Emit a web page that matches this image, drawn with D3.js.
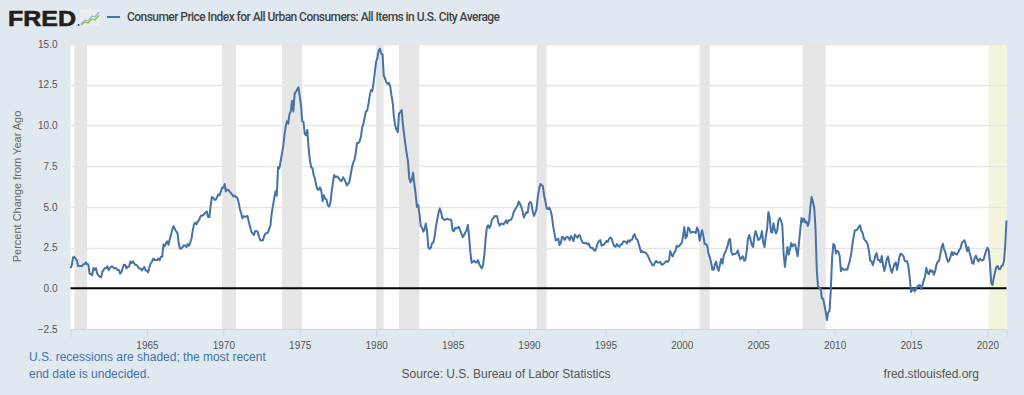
<!DOCTYPE html>
<html>
<head>
<meta charset="utf-8">
<script src="https://cdn.jsdelivr.net/npm/d3@7"></script>
<style>
  html, body { margin: 0; padding: 0; background: #e1e9f0; }
  svg { display: block; font-family: "Liberation Sans", Arial, sans-serif; }
</style>
</head>
<body>
<div id="chart"></div>
<script>
// CPI-U, percent change from year ago, monthly from Jan 1960 (one row per year)
var seriesStart = new Date(1960, 0, 1);
var cpiYoY = [
  1.24, 1.41, 1.90, 1.93, 1.82, 1.72, 1.37, 1.37, 1.37, 1.36, 1.48, 1.48, // 1960
  1.59, 1.47, 1.47, 0.90, 0.90, 0.79, 1.24, 1.13, 1.24, 0.90, 0.79, 0.70, // 1961
  0.68, 1.01, 1.13, 1.24, 1.24, 1.35, 1.12, 1.23, 1.34, 1.34, 1.23, 1.23, // 1962
  1.23, 1.12, 1.12, 0.89, 1.00, 1.23, 1.45, 1.44, 1.22, 1.33, 1.33, 1.65, // 1963
  1.54, 1.65, 1.54, 1.43, 1.43, 1.32, 1.21, 1.21, 1.10, 1.21, 1.31, 1.09, // 1964
  1.09, 0.98, 1.30, 1.52, 1.63, 1.83, 1.73, 1.73, 1.73, 1.83, 1.73, 1.94, // 1965
  1.94, 2.69, 2.58, 2.78, 2.89, 2.67, 3.01, 3.32, 3.62, 3.82, 3.62, 3.50, // 1966
  3.39, 2.75, 2.44, 2.43, 2.53, 2.64, 2.63, 2.52, 2.71, 2.61, 2.80, 3.04, // 1967
  3.54, 3.94, 4.03, 3.92, 4.11, 4.20, 4.40, 4.48, 4.47, 4.56, 4.65, 4.72, // 1968
  4.38, 4.37, 5.00, 5.61, 5.56, 5.44, 5.44, 5.59, 5.76, 5.71, 5.93, 6.18, // 1969
  6.18, 6.40, 5.96, 6.06, 6.04, 5.94, 5.85, 5.75, 5.64, 5.69, 5.60, 5.57, // 1970
  5.26, 4.87, 4.62, 4.30, 4.43, 4.40, 4.40, 4.45, 4.08, 3.80, 3.49, 3.37, // 1971
  3.27, 3.51, 3.50, 3.49, 3.18, 2.95, 2.94, 2.93, 3.19, 3.36, 3.39, 3.41, // 1972
  3.65, 3.87, 4.59, 5.06, 5.53, 5.96, 5.68, 7.44, 7.36, 7.80, 8.25, 8.71, // 1973
  9.39, 9.97, 10.26, 10.11, 10.71, 10.86, 11.51, 10.86, 11.94, 12.06, 12.20, 12.34, // 1974
  11.80, 11.23, 10.25, 10.21, 9.47, 9.39, 9.72, 8.60, 7.86, 7.43, 7.38, 6.94, // 1975
  6.72, 6.29, 6.07, 6.05, 6.20, 5.97, 5.35, 5.71, 5.49, 5.46, 5.12, 5.02, // 1976
  5.21, 5.91, 6.44, 6.95, 6.83, 6.87, 6.83, 6.72, 6.61, 6.59, 6.82, 6.70, // 1977
  6.52, 6.31, 6.41, 6.52, 6.95, 7.40, 7.71, 7.88, 8.31, 8.92, 8.91, 9.02, // 1978
  9.28, 9.86, 10.09, 10.49, 10.86, 10.91, 11.31, 11.83, 12.18, 12.11, 12.63, 13.29, // 1979
  13.91, 14.16, 14.60, 14.71, 14.42, 14.36, 13.06, 12.88, 12.64, 12.55, 12.61, 12.42, // 1980
  11.84, 11.39, 10.53, 9.98, 9.75, 9.58, 10.74, 10.81, 10.94, 10.09, 9.39, 8.82, // 1981
  8.26, 7.79, 6.77, 6.51, 6.68, 7.09, 6.42, 5.82, 5.00, 5.12, 4.59, 3.83, // 1982
  3.72, 3.48, 3.59, 3.97, 3.51, 2.51, 2.42, 2.50, 2.78, 2.82, 3.21, 3.80, // 1983
  4.22, 4.66, 4.90, 4.68, 4.32, 4.24, 4.19, 4.26, 4.25, 4.23, 4.22, 4.19, // 1984
  3.55, 3.50, 3.70, 3.67, 3.72, 3.77, 3.56, 3.36, 3.14, 3.25, 3.43, 3.55, // 1985
  3.89, 3.16, 2.22, 1.57, 1.63, 1.69, 1.60, 1.59, 1.73, 1.48, 1.33, 1.22, // 1986
  1.46, 2.10, 3.03, 3.74, 3.86, 3.70, 3.87, 4.23, 4.31, 4.43, 4.44, 4.43, // 1987
  4.02, 3.85, 3.96, 3.97, 3.92, 4.03, 4.17, 3.99, 4.18, 4.18, 4.22, 4.39, // 1988
  4.67, 4.82, 4.94, 5.07, 5.32, 5.19, 5.00, 4.72, 4.34, 4.52, 4.67, 4.64, // 1989
  5.20, 5.31, 5.20, 4.69, 4.44, 4.65, 4.88, 5.62, 6.11, 6.40, 6.34, 6.25, // 1990
  5.65, 5.31, 4.89, 4.86, 4.95, 4.77, 4.45, 3.83, 3.39, 2.94, 2.99, 3.06, // 1991
  2.65, 2.80, 3.15, 3.13, 2.97, 3.11, 3.15, 3.12, 2.96, 3.21, 3.05, 2.90, // 1992
  3.30, 3.19, 3.11, 3.25, 3.26, 3.01, 2.82, 2.78, 2.76, 2.79, 2.69, 2.75, // 1993
  2.52, 2.48, 2.48, 2.36, 2.30, 2.50, 2.77, 2.90, 2.96, 2.61, 2.67, 2.67, // 1994
  2.80, 2.91, 2.85, 3.03, 3.12, 3.04, 2.77, 2.59, 2.55, 2.71, 2.61, 2.56, // 1995
  2.69, 2.69, 2.87, 2.88, 2.86, 2.75, 2.95, 2.86, 2.97, 2.99, 3.23, 3.32, // 1996
  3.04, 3.02, 2.78, 2.50, 2.22, 2.28, 2.21, 2.21, 2.16, 2.06, 1.88, 1.70, // 1997
  1.56, 1.41, 1.41, 1.58, 1.69, 1.58, 1.58, 1.63, 1.46, 1.46, 1.52, 1.61, // 1998
  1.67, 1.61, 1.72, 2.29, 2.07, 1.96, 2.18, 2.28, 2.61, 2.55, 2.60, 2.70, // 1999
  2.79, 3.22, 3.76, 3.07, 3.19, 3.73, 3.66, 3.41, 3.45, 3.45, 3.45, 3.39, // 2000
  3.73, 3.55, 2.92, 3.27, 3.56, 3.19, 2.72, 2.72, 2.60, 2.13, 1.90, 1.60, // 2001
  1.14, 1.14, 1.48, 1.64, 1.23, 1.07, 1.46, 1.80, 1.51, 2.03, 2.20, 2.38, // 2002
  2.60, 2.98, 3.02, 2.22, 2.06, 2.11, 2.11, 2.16, 2.32, 2.04, 1.77, 1.88, // 2003
  1.97, 1.69, 1.74, 2.29, 3.05, 3.27, 2.99, 2.65, 2.54, 3.19, 3.52, 3.26, // 2004
  2.97, 3.01, 3.15, 3.51, 2.80, 2.53, 3.17, 3.64, 4.69, 4.35, 3.46, 3.42, // 2005
  3.99, 3.60, 3.36, 3.55, 4.17, 4.32, 4.15, 3.82, 2.06, 1.31, 1.97, 2.54, // 2006
  2.08, 2.42, 2.78, 2.57, 2.69, 2.69, 2.36, 1.97, 2.76, 3.54, 4.31, 4.08, // 2007
  4.28, 4.03, 4.09, 3.82, 4.09, 5.00, 5.60, 5.30, 4.94, 3.66, 1.07, 0.09, // 2008
  0.03, -0.02, -0.62, -0.64, -1.03, -1.42, -1.95, -1.48, -1.38, -0.18, 1.85, 2.72, // 2009
  2.64, 2.14, 2.31, 2.24, 1.99, 1.05, 1.24, 1.15, 1.14, 1.17, 1.14, 1.44, // 2010
  1.70, 2.11, 2.68, 3.16, 3.57, 3.56, 3.63, 3.77, 3.87, 3.53, 3.39, 3.06, // 2011
  2.93, 2.87, 2.68, 2.30, 1.70, 1.66, 1.41, 1.69, 1.99, 2.16, 1.74, 1.74, // 2012
  1.60, 1.98, 1.49, 1.06, 1.36, 1.78, 1.96, 1.52, 1.18, 0.96, 1.24, 1.50, // 2013
  1.59, 1.13, 1.51, 1.95, 2.13, 2.07, 1.99, 1.70, 1.66, 1.66, 1.32, 0.65, // 2014
  -0.23, -0.09, -0.02, -0.20, -0.04, 0.12, 0.17, 0.20, -0.04, 0.17, 0.50, 0.70, // 2015
  1.26, 0.96, 0.86, 1.13, 1.02, 1.07, 0.83, 1.06, 1.46, 1.64, 1.69, 2.07, // 2016
  2.51, 2.74, 2.39, 2.20, 1.87, 1.63, 1.70, 1.94, 2.23, 2.04, 2.20, 2.11, // 2017
  2.07, 2.21, 2.36, 2.47, 2.80, 2.87, 2.95, 2.70, 2.28, 2.52, 2.18, 1.91, // 2018
  1.55, 1.51, 1.86, 2.00, 1.79, 1.65, 1.81, 1.75, 1.71, 1.76, 2.05, 2.29, // 2019
  2.49, 2.33, 1.54, 0.33, 0.20, 0.65, 0.99, 1.31, 1.37, 1.18, 1.17, 1.36, // 2020
  1.40, 1.68, 2.62, 4.16                                                   // 2021
];
var recessions = [
  ["1960-04-01", "1961-02-01"],
  ["1969-12-01", "1970-11-01"],
  ["1973-11-01", "1975-03-01"],
  ["1980-01-01", "1980-07-01"],
  ["1981-07-01", "1982-11-01"],
  ["1990-07-01", "1991-03-01"],
  ["2001-03-01", "2001-11-01"],
  ["2007-12-01", "2009-06-01"]
];
var openRecession = ["2020-02-01", "2021-04-01"];
var yTicks = [-2.5, 0, 2.5, 5, 7.5, 10, 12.5, 15];
var xTickYears = [1965, 1970, 1975, 1980, 1985, 1990, 1995, 2000, 2005, 2010, 2015, 2020];
var seriesTitle = "Consumer Price Index for All Urban Consumers: All Items in U.S. City Average";

var width = 1024, height = 395,
    plot = { left: 70.5, right: 1006.5, top: 44, bottom: 329 };

var parse = d3.timeParse("%Y-%m-%d");
var data = cpiYoY.map(function (v, i) {
    return { date: d3.timeMonth.offset(seriesStart, i), value: v };
});

var x = d3.scaleTime()
    .domain([seriesStart, data[data.length - 1].date])
    .range([plot.left, plot.right]);
var y = d3.scaleLinear()
    .domain([-2.5, 15])
    .range([plot.bottom, plot.top]);

var svg = d3.select("#chart").append("svg")
    .attr("width", width)
    .attr("height", height);

svg.append("rect")
    .attr("width", width).attr("height", height)
    .attr("fill", "#e1e9f0");

// plot background
svg.append("rect")
    .attr("x", plot.left).attr("y", plot.top)
    .attr("width", plot.right - plot.left)
    .attr("height", plot.bottom - plot.top)
    .attr("fill", "#fff");

// recession shading
svg.append("g").selectAll("rect")
    .data(recessions)
    .enter().append("rect")
    .attr("x", function (d) { return x(parse(d[0])); })
    .attr("y", plot.top)
    .attr("width", function (d) { return x(parse(d[1])) - x(parse(d[0])); })
    .attr("height", plot.bottom - plot.top)
    .attr("fill", "#e6e6e6");

svg.append("rect")
    .attr("x", x(parse(openRecession[0])))
    .attr("y", plot.top)
    .attr("width", x(parse(openRecession[1])) - x(parse(openRecession[0])))
    .attr("height", plot.bottom - plot.top)
    .attr("fill", "#f4f4dc");

// grid
svg.append("g").selectAll("line")
    .data(yTicks.filter(function (t) { return t !== 0 && t !== -2.5; }))
    .enter().append("line")
    .attr("x1", plot.left).attr("x2", plot.right)
    .attr("y1", function (d) { return Math.round(y(d)) + 0.5; })
    .attr("y2", function (d) { return Math.round(y(d)) + 0.5; })
    .attr("stroke", "#e6e6e6")
    .attr("stroke-width", 1.5);

// y axis labels
var yAxis = svg.append("g")
    .attr("transform", "translate(" + plot.left + ",0)")
    .call(d3.axisLeft(y).tickValues(yTicks).tickFormat(d3.format(".1f")).tickSize(0).tickPadding(13));
yAxis.select(".domain").remove();
yAxis.selectAll("text")
    .style("font-family", "'Liberation Sans', Arial, sans-serif")
    .style("font-size", "10px")
    .attr("fill", "#555");

// x axis
var xAxis = svg.append("g")
    .attr("transform", "translate(0," + plot.bottom + ")")
    .call(d3.axisBottom(x)
        .tickValues(xTickYears.map(function (yr) { return new Date(yr, 0, 1); }))
        .tickFormat(d3.timeFormat("%Y"))
        .tickSize(8).tickPadding(5));
xAxis.select(".domain").attr("stroke", "#ccd6eb");
xAxis.selectAll(".tick line").attr("stroke", "#ccd6eb");
xAxis.selectAll("text")
    .style("font-family", "'Liberation Sans', Arial, sans-serif")
    .style("font-size", "10px")
    .attr("fill", "#555");

// zero line
svg.append("line")
    .attr("x1", plot.left).attr("x2", plot.right)
    .attr("y1", y(0)).attr("y2", y(0))
    .attr("stroke", "#000")
    .attr("stroke-width", 2);

// series
svg.append("path")
    .datum(data)
    .attr("fill", "none")
    .attr("stroke", "#4572a7")
    .attr("stroke-width", 2)
    .attr("stroke-linejoin", "round")
    .attr("d", d3.line()
        .x(function (d) { return x(d.date); })
        .y(function (d) { return y(d.value); }));

// y axis title
svg.append("text")
    .attr("transform", "translate(21," + ((plot.top + plot.bottom) / 2) + ") rotate(-90)")
    .attr("text-anchor", "middle")
    .style("font-size", "11px")
    .attr("fill", "#666")
    .text("Percent Change from Year Ago");

// header: FRED logo + legend
svg.append("text")
    .attr("x", 8).attr("y", 26)
    .attr("textLength", 68)
    .attr("lengthAdjust", "spacingAndGlyphs")
    .style("font-size", "22.5px")
    .style("font-weight", "900")
    .attr("fill", "#231f20")
    .attr("stroke", "#231f20")
    .attr("stroke-width", 0.6)
    .text("FRED");
svg.append("circle")
    .attr("cx", 78.5).attr("cy", 25).attr("r", 0.9)
    .attr("fill", "#231f20");
var icon = svg.append("g").attr("transform", "translate(80,9)");
icon.append("rect")
    .attr("width", 20).attr("height", 17)
    .attr("fill", "#e8edf2");
icon.append("polyline")
    .attr("points", "1,15 5,11 8,12 12,7 15,8 19,3")
    .attr("fill", "none").attr("stroke", "#9ab7d3").attr("stroke-width", 1.3);
icon.append("polyline")
    .attr("points", "1,16 5,13 8,14 12,10 15,11 19,6")
    .attr("fill", "none").attr("stroke", "#8dc63f").attr("stroke-width", 1.3);

svg.append("line")
    .attr("x1", 107).attr("x2", 120)
    .attr("y1", 17).attr("y2", 17)
    .attr("stroke", "#4572a7")
    .attr("stroke-width", 2);
svg.append("text")
    .attr("x", 127).attr("y", 21)
    .attr("textLength", 373)
    .attr("lengthAdjust", "spacing")
    .style("font-family", "Roboto, 'Liberation Sans', Arial, sans-serif")
    .style("font-size", "12px")
    .style("font-weight", "500")
    .attr("fill", "#444")
    .text(seriesTitle);

// footer
var note = svg.append("text")
    .style("font-size", "12px")
    .attr("fill", "#4572a7");
note.append("tspan").attr("x", 29).attr("y", 361).text("U.S. recessions are shaded; the most recent");
note.append("tspan").attr("x", 29).attr("y", 378).text("end date is undecided.");

svg.append("text")
    .attr("x", 506).attr("y", 378)
    .attr("text-anchor", "middle")
    .style("font-size", "12px")
    .attr("fill", "#555")
    .text("Source: U.S. Bureau of Labor Statistics");

svg.append("text")
    .attr("x", 979).attr("y", 378)
    .attr("text-anchor", "end")
    .style("font-size", "12px")
    .attr("fill", "#555")
    .text("fred.stlouisfed.org");
</script>
</body>
</html>
